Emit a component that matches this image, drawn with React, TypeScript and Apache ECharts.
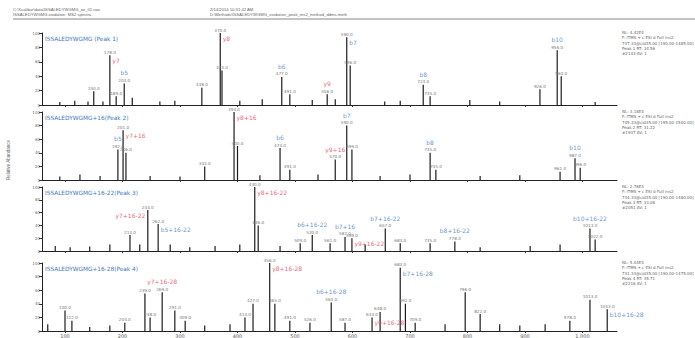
import React, { useEffect, useRef } from "react";
import * as echarts from "echarts";

// ---- data ----
const titles = [
  "ISSALEDYWGMG (Peak 1)",
  "ISSALEDYWGMG+16(Peak 2)",
  "ISSALEDYWGMG+16-22(Peak 3)",
  "ISSALEDYWGMG+16-28(Peak 4)",
];

const p1Mz = [91, 117, 140, 150, 166, 178, 189, 203, 217, 265, 291, 338, 370, 373, 404, 443, 477, 491, 530, 556, 570, 590, 596, 656, 683, 723, 735, 804, 856, 926, 956, 963, 1022];
const p1Int = [4, 6, 5, 19, 5, 69, 12, 30, 10, 5, 6, 24, 100, 48, 6, 8, 39, 15, 7, 15, 8, 94, 55, 5, 6, 28, 12, 7, 5, 22, 76, 40, 4];
const p1Ions: [number, string][] = [[178, "y7"], [203, "b5"], [370, "y8"], [477, "b6"], [556, "y9"], [590, "b7"], [723, "b8"], [956, "b10"]];

const p2Mz = [91, 126, 161, 192, 201, 206, 248, 300, 343, 394, 400, 439, 474, 491, 540, 570, 590, 599, 648, 700, 735, 745, 822, 891, 961, 987, 996];
const p2Int = [5, 8, 6, 45, 73, 40, 6, 5, 20, 100, 50, 7, 47, 15, 8, 30, 80, 45, 6, 8, 40, 15, 6, 7, 12, 32, 18];
const p2Ions: [number, string][] = [[192, "b5"], [201, "y7+16"], [394, "y8+16"], [474, "b6"], [570, "y9+16"], [590, "b7"], [735, "b8"], [987, "b10"]];

const p3Mz = [83, 109, 143, 178, 213, 230, 244, 262, 283, 317, 361, 404, 430, 436, 474, 509, 530, 561, 587, 599, 622, 657, 683, 735, 778, 822, 909, 961, 1013, 1022];
const p3Int = [8, 6, 7, 10, 25, 10, 64, 42, 10, 6, 8, 10, 100, 40, 8, 12, 25, 12, 22, 20, 10, 35, 12, 12, 15, 6, 8, 10, 35, 18];
const p3Ions: [number, string][] = [[244, "y7+16-22"], [262, "b5+16-22"], [430, "y8+16-22"], [530, "b6+16-22"], [587, "b7+16"], [599, "y9+16-22"], [657, "b7+16-22"], [778, "b8+16-22"], [1013, "b10+16-22"]];

const p4Mz = [70, 100, 112, 143, 178, 204, 239, 248, 269, 291, 309, 343, 387, 413, 427, 456, 465, 491, 526, 563, 587, 634, 648, 683, 692, 709, 761, 796, 822, 856, 891, 935, 978, 1013, 1043];
const p4Int = [10, 30, 15, 6, 8, 12, 55, 20, 57, 30, 15, 8, 10, 20, 40, 100, 40, 15, 12, 42, 12, 20, 28, 93, 40, 12, 10, 57, 25, 10, 8, 10, 15, 46, 32];
const p4Ions: [number, string][] = [[269, "y7+16-28"], [456, "y8+16-28"], [563, "b6+16-28"], [634, "y9+16-28"], [683, "b7+16-28"], [1043, "b10+16-28"]];

const xTicks = [100, 200, 300, 400, 500, 600, 700, 800, 900, 1000];

const headerLeft = ["C:\\Xcalibur\\data\\ISSALEDYWGMG_ox_01.raw", "ISSALEDYWGMG oxidation  MS2 spectra"];
const headerRight = ["2/14/2014 10:31:42 AM", "D:\\Methods\\ISSALEDYWGMG_oxidation_peak_ms2_method_ddms.meth"];
const infoBlocks = [
  ["NL: 4.42E4", "F: ITMS + c ESI d Full ms2", "737.33@cid35.00 [190.00-1485.00]", "Peak 1 RT: 34.56", "#2143 AV: 1"],
  ["NL: 3.18E4", "F: ITMS + c ESI d Full ms2", "745.33@cid35.00 [195.00-1500.00]", "Peak 2 RT: 31.22", "#1937 AV: 1"],
  ["NL: 2.76E4", "F: ITMS + c ESI d Full ms2", "734.33@cid35.00 [190.00-1480.00]", "Peak 3 RT: 33.08", "#2051 AV: 1"],
  ["NL: 5.04E4", "F: ITMS + c ESI d Full ms2", "731.33@cid35.00 [190.00-1475.00]", "Peak 4 RT: 35.71", "#2216 AV: 1"],
];

const panels = [
  { mz: p1Mz, int: p1Int, ions: p1Ions },
  { mz: p2Mz, int: p2Int, ions: p2Ions },
  { mz: p3Mz, int: p3Int, ions: p3Ions },
  { mz: p4Mz, int: p4Int, ions: p4Ions },
];

const RED = "#e2414f";
const BLUE = "#3f78bd";

type Box = { x1: number; y1: number; x2: number; y2: number };
const hit = (a: Box, b: Box) => a.x1 < b.x2 && b.x1 < a.x2 && a.y1 < b.y2 && b.y1 < a.y2;

export default function App() {
  const ref = useRef<HTMLDivElement>(null);
  useEffect(() => {
    if (!ref.current) return;
    const chart = echarts.init(ref.current, null, { renderer: "svg" });
    const tops = [33, 112, 187, 263];
    const heights = [72, 68, 64, 69];
    const grids: any[] = [];
    const xAxes: any[] = [];
    const yAxes: any[] = [];
    const series: any[] = [];
    const graphics: any[] = [];
    const X0 = 42;
    const W = 575;
    const XMIN = 60;
    const XMAX = 1060;
    const GRAY_MIN = 12;
    const SIDE_DY = 5.5;

    panels.forEach((p, i) => {
      const top = tops[i];
      const h = heights[i];
      const toPx = (m: number) => X0 + ((m - XMIN) / (XMAX - XMIN)) * W;
      const toPy = (v: number) => top + h * (1 - v / 100);

      grids.push({ left: X0, right: 695 - X0 - W, top, height: h });
      xAxes.push({
        type: "value",
        gridIndex: i,
        min: XMIN,
        max: XMAX,
        axisLine: { show: true, lineStyle: { color: "#222", width: 1 } },
        axisTick: { show: true, customValues: xTicks, length: 2, lineStyle: { color: "#333" } },
        axisLabel: { show: i === 3, customValues: xTicks, fontSize: 5, color: "#555", margin: 2 },
        splitLine: { show: false },
      });
      yAxes.push({
        type: "value",
        gridIndex: i,
        min: 0,
        max: 100,
        interval: 20,
        axisLine: { show: true, lineStyle: { color: "#222", width: 1 } },
        axisTick: { show: true, length: 3, lineStyle: { color: "#333" } },
        axisLabel: { show: true, fontSize: 4, color: "#666", margin: 2 },
        splitLine: { show: false },
      });
      const data = p.mz.map((m, k) => [m, p.int[k]]);
      series.push({
        type: "bar",
        xAxisIndex: i,
        yAxisIndex: i,
        barWidth: 1.2,
        data,
        itemStyle: { color: "#1c1c1c" },
        label: {
          show: true,
          position: "top",
          distance: 1,
          fontSize: 4.2,
          color: "#777",
          formatter: (prm: any) => (prm.value[1] >= GRAY_MIN ? prm.value[0].toFixed(1) : ""),
        },
      });

      // occupied boxes: gray m/z labels, title, info block
      const boxes: Box[] = [];
      p.mz.forEach((m, k) => {
        if (p.int[k] < GRAY_MIN) return;
        const px = toPx(m);
        const py = toPy(p.int[k]);
        const w = m.toFixed(1).length * 2.6;
        boxes.push({ x1: px - w / 2, y1: py - 6.5, x2: px + w / 2, y2: py - 0.5 });
      });
      boxes.push({ x1: 45, y1: top + 3, x2: 45 + titles[i].length * 3.9, y2: top + 10 });
      boxes.push({ x1: 620, y1: top - 3, x2: 695, y2: top + 24 });

      const ionData = p.ions.map(([m, name]) => {
        const k = p.mz.indexOf(m);
        const v = k >= 0 ? p.int[k] : 10;
        const color = name.startsWith("y") ? RED : BLUE;
        const px = toPx(m);
        const py = toPy(v);
        const wL = name.length * 3.7;
        const sideBox = (x1: number, dy: number): Box => ({ x1, y1: py + dy - 4, x2: x1 + wL, y2: py + dy + 4 });
        const cands: [string, Box, any][] = [
          ["top", { x1: px - wL / 2, y1: py - 14, x2: px + wL / 2, y2: py - 7 }, { position: "top", distance: 7 }],
          ["right", sideBox(px + 2, SIDE_DY), { position: "right", distance: 2, offset: [0, SIDE_DY] }],
          ["left", sideBox(px - 2 - wL, SIDE_DY), { position: "left", distance: 2, offset: [0, SIDE_DY] }],
          ["topHigh", { x1: px - wL / 2, y1: py - 20, x2: px + wL / 2, y2: py - 13 }, { position: "top", distance: 13 }],
          ["rightLow", sideBox(px + 2, SIDE_DY + 7), { position: "right", distance: 2, offset: [0, SIDE_DY + 7] }],
        ];
        if (v > 85) cands.unshift(cands.splice(1, 1)[0]);
        let best = cands[0];
        let bestN = 1e9;
        for (const c of cands) {
          const n =
            boxes.filter((b) => hit(b, c[1])).length +
            (c[1].y1 < top - 2 ? 1 : 0) +
            (c[1].y2 > top + h - 1 ? 1 : 0);
          if (n < bestN) {
            bestN = n;
            best = c;
          }
        }
        boxes.push(best[1]);
        return { value: [m, v], name, label: { show: true, color, ...best[2] } };
      });
      series.push({
        type: "scatter",
        xAxisIndex: i,
        yAxisIndex: i,
        symbolSize: 1,
        itemStyle: { color: "rgba(0,0,0,0)" },
        data: ionData,
        label: { show: true, fontSize: 6, formatter: (prm: any) => prm.name },
        z: 5,
      });
      graphics.push({
        type: "text",
        left: 45,
        top: top + 3,
        style: { text: titles[i], fontSize: 5.8, fill: BLUE, fontFamily: "DejaVu Sans" },
      });
      graphics.push({
        type: "text",
        left: 622,
        top: top - 3,
        style: {
          text: infoBlocks[i].join("\n"),
          fontSize: 4,
          lineHeight: 5.2,
          fill: "#666",
          fontFamily: "DejaVu Sans",
        },
      });
    });

    graphics.push(
      { type: "text", left: 13, top: 7, style: { text: headerLeft.join("\n"), fontSize: 4.2, lineHeight: 5, fill: "#666" } },
      { type: "text", left: 210, top: 7, style: { text: headerRight.join("\n"), fontSize: 4.2, lineHeight: 5, fill: "#666" } },
      { type: "line", shape: { x1: 13, y1: 19, x2: 695, y2: 19 }, style: { stroke: "#888", lineWidth: 1 } },
      {
        type: "text",
        x: 6,
        y: 160,
        rotation: Math.PI / 2,
        style: { text: "Relative Abundance", fontSize: 4.5, fill: "#666", align: "center" },
      }
    );

    chart.setOption({
      animation: false,
      backgroundColor: "#fff",
      textStyle: { fontFamily: "DejaVu Sans" },
      grid: grids,
      xAxis: xAxes,
      yAxis: yAxes,
      series,
      graphic: graphics,
    });
    return () => chart.dispose();
  }, []);
  return (
    <div
      ref={ref}
      style={{ position: "fixed", left: 0, top: 0, width: 695, height: 338, background: "#fff" }}
    />
  );
}
